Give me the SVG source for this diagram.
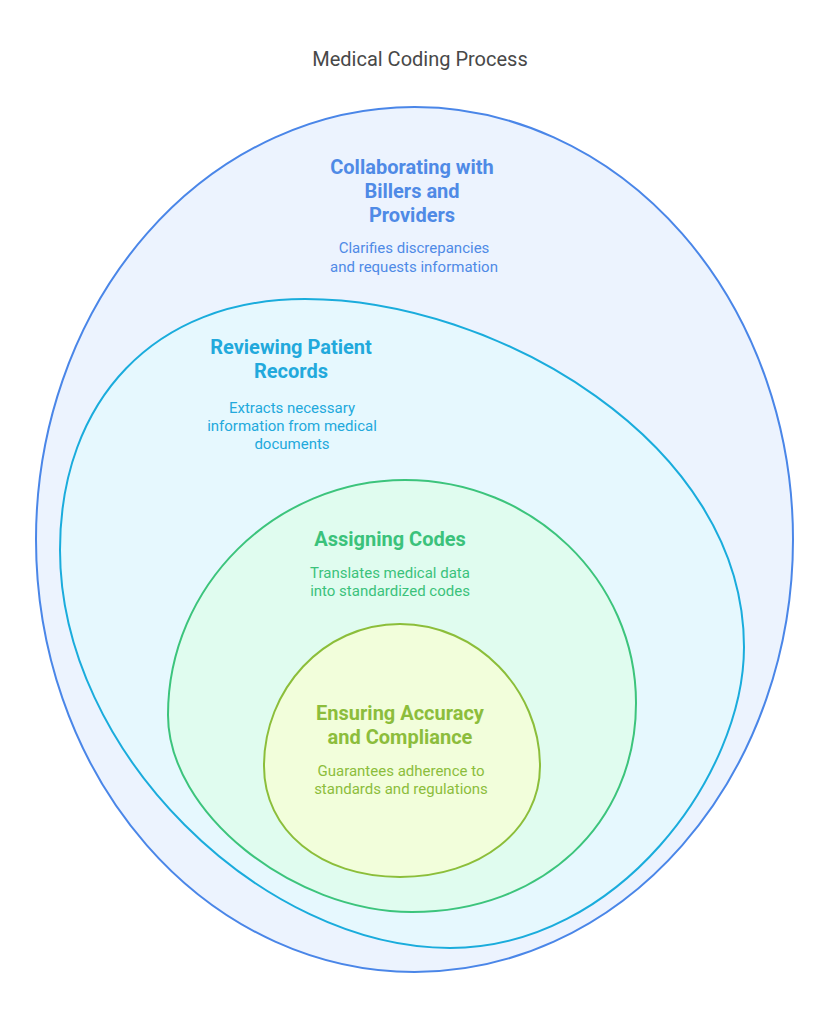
<svg xmlns="http://www.w3.org/2000/svg" width="840" height="1021" viewBox="0 0 840 1021">
<style>
text{font-family:Roboto,"Liberation Sans",sans-serif;text-anchor:middle}
.t{font-size:20px;fill:#484848}
.h{font-size:20px;font-weight:bold}
.d{font-size:15px}
.s{stroke-width:2}
.b{fill:#4f8ae6}.c{fill:#22a9dc}.g{fill:#3bc27b}.l{fill:#8cbd3c}
</style>
<rect width="840" height="1021" fill="#ffffff"/>
<text class="t" x="420" y="66">Medical Coding Process</text>
<g id="collaborating">
<ellipse cx="414.5" cy="539.5" rx="378.5" ry="432.5" fill="#ecf3fe" stroke="#4a86e8" class="s"/>
<text class="h b" x="412" y="174">Collaborating with</text>
<text class="h b" x="412" y="198">Billers and</text>
<text class="h b" x="412" y="222">Providers</text>
<text class="d b" x="414" y="253">Clarifies discrepancies</text>
<text class="d b" x="414" y="272">and requests information</text>
</g>
<g id="reviewing">
<path d="M305,299 C495,299 744,442 744,647 C744,775 618,948 450,948 C262,948 60,752 60,550 C60,400 155,299 305,299 Z" fill="#e6f8fe" stroke="#1aacdc" class="s"/>
<text class="h c" x="291" y="354">Reviewing Patient</text>
<text class="h c" x="291" y="378">Records</text>
<text class="d c" x="292" y="413">Extracts necessary</text>
<text class="d c" x="292" y="431">information from medical</text>
<text class="d c" x="292" y="449">documents</text>
</g>
<g id="assigning">
<path d="M405,480 C532,480 636,580 636,703 C636,824 542,912 412,912 C292,912 168,812 168,715 C168,586 275,480 405,480 Z" fill="#e0fcef" stroke="#3cc47c" class="s"/>
<text class="h g" x="390" y="546">Assigning Codes</text>
<text class="d g" x="390" y="578">Translates medical data</text>
<text class="d g" x="390" y="596">into standardized codes</text>
</g>
<g id="ensuring">
<path d="M400,624 C477,624 540,690 540,766 C540,830 480,877 400,877 C320,877 264,830 264,766 C264,690 323,624 400,624 Z" fill="#f2fedb" stroke="#8cbe3a" class="s"/>
<text class="h l" x="400" y="720">Ensuring Accuracy</text>
<text class="h l" x="400" y="744">and Compliance</text>
<text class="d l" x="401" y="776">Guarantees adherence to</text>
<text class="d l" x="401" y="794">standards and regulations</text>
</g>
<g id="connectors"></g>
</svg>
